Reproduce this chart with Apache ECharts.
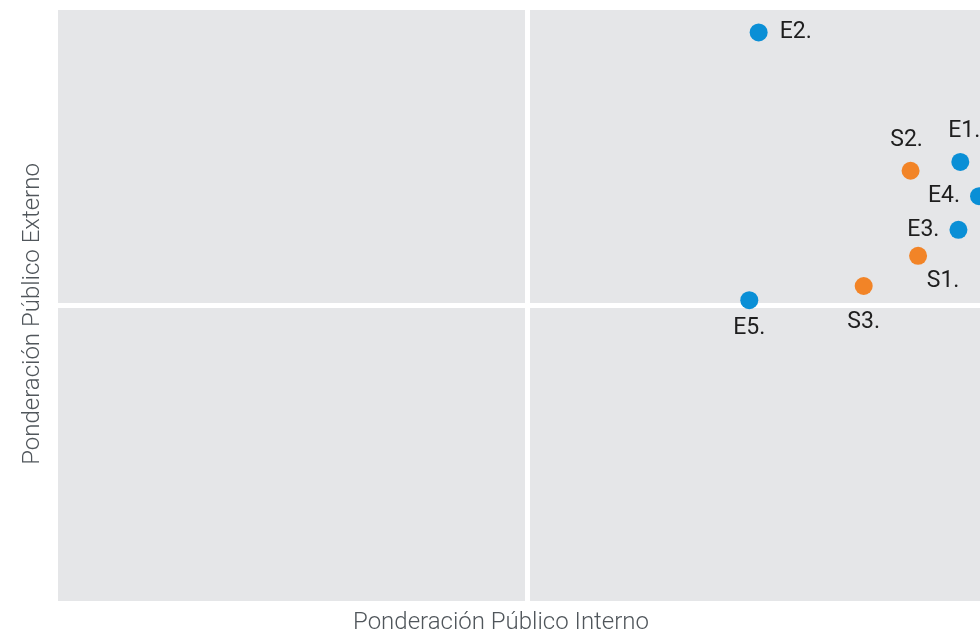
<!DOCTYPE html>
<html><head><meta charset="utf-8">
<script src="https://cdn.jsdelivr.net/npm/echarts@6/dist/echarts.min.js"></script>
<style>html,body{margin:0;padding:0;background:#fff}#c{width:980px;height:635px}</style>
</head><body><div id="c"></div>
<script>
// Data (axis units: 0..10, quadrant split at 5; x-axis view cut at 9.83)
const eNames = ['E1.', 'E2.', 'E3.', 'E4.', 'E5.'];
const eX = [9.62, 7.47, 9.60, 9.82, 7.37];
const eY = [7.43, 9.62, 6.28, 6.85, 5.09];
const sNames = ['S1.', 'S2.', 'S3.'];
const sX = [9.17, 9.09, 8.59];
const sY = [5.84, 7.28, 5.33];
const xTitle = 'Ponderación Público Interno';
const yTitle = 'Ponderación Público Externo';

// Label placement styles (by name)
const labelStyle = {
  'E1.': {position: 'top', distance: 10, offset: [4, 0]},
  'E2.': {position: 'right', distance: 12},
  'E3.': {position: 'left', distance: 10},
  'E4.': {position: 'left', distance: 10},
  'E5.': {position: 'bottom', distance: 8},
  'S1.': {position: 'bottom', distance: 5, offset: [25, 0]},
  'S2.': {position: 'top', distance: 10, offset: [-4, 0]},
  'S3.': {position: 'bottom', distance: 16}
};
function build(names, xs, ys) {
  return names.map((n, i) => ({name: n, value: [xs[i], ys[i]], label: labelStyle[n]}));
}
const chart = echarts.init(document.getElementById('c'));
const font = 'Roboto, "DejaVu Sans", sans-serif';
chart.setOption({
  animation: false,
  grid: {left: 58, top: 10, right: 0, bottom: 34, show: true, backgroundColor: '#e5e6e8', borderWidth: 0},
  xAxis: {type: 'value', min: 0, max: 9.83, interval: 5,
    axisLine: {show: false}, axisTick: {show: false}, axisLabel: {show: false},
    splitLine: {show: true, showMinLine: false, showMaxLine: false, lineStyle: {color: '#ffffff', width: 5}}},
  yAxis: {type: 'value', min: 0, max: 10, interval: 5,
    axisLine: {show: false}, axisTick: {show: false}, axisLabel: {show: false},
    splitLine: {show: true, showMinLine: false, showMaxLine: false, lineStyle: {color: '#ffffff', width: 5}}},
  graphic: [
    {type: 'text', x: 501, y: 623, style: {text: xTitle, font: '300 24px ' + font, fill: '#50565b', align: 'center', verticalAlign: 'middle'}, z: 10},
    {type: 'text', x: 33, y: 314, rotation: Math.PI / 2, style: {text: yTitle, font: '300 24px ' + font, fill: '#50565b', align: 'center', verticalAlign: 'middle'}, z: 10}
  ],
  series: [
    {type: 'scatter', name: 'E', symbolSize: 18, clip: false, itemStyle: {color: '#0a8fd6', opacity: 1},
      label: {show: true, formatter: '{b}', color: '#1e1e1e', fontSize: 23, fontFamily: font},
      data: build(eNames, eX, eY)},
    {type: 'scatter', name: 'S', symbolSize: 18, clip: false, itemStyle: {color: '#f28427', opacity: 1},
      label: {show: true, formatter: '{b}', color: '#1e1e1e', fontSize: 23, fontFamily: font},
      data: build(sNames, sX, sY)}
  ]
});
</script></body></html>
